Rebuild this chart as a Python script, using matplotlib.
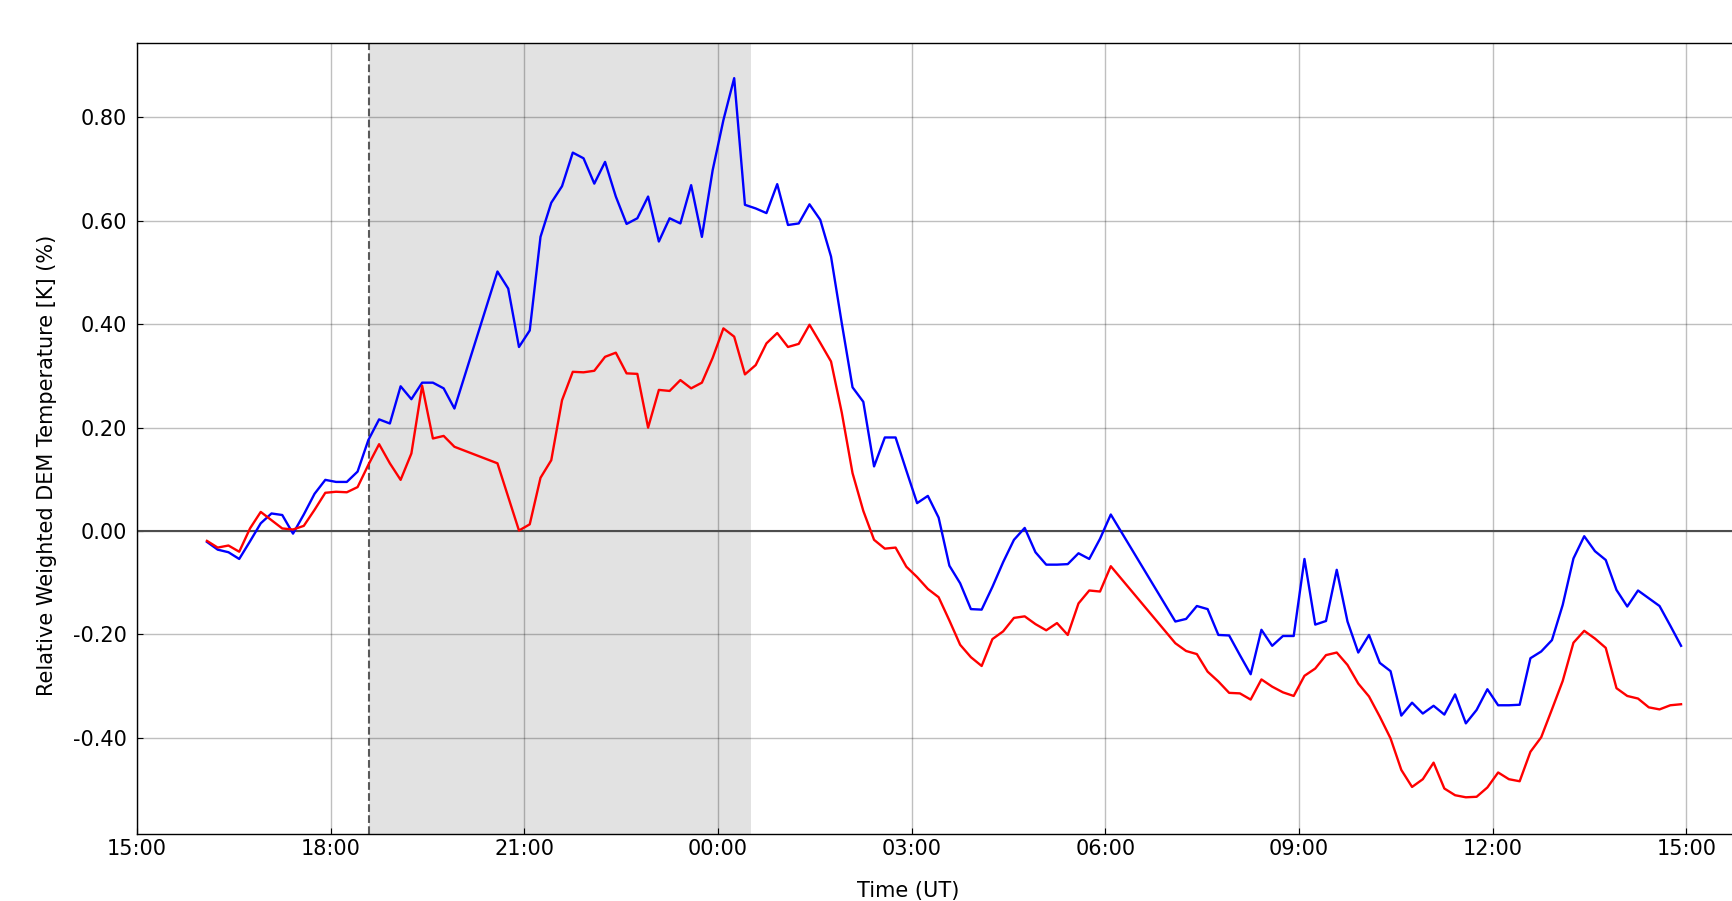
import matplotlib
matplotlib.use('Agg')
import matplotlib.pyplot as plt
import matplotlib.dates as mdates
import matplotlib.ticker as mticker
import pandas as pd

# 10-minute cadence, with two data gaps (straight segments in the plot)
segments = [("2021-01-01 16:05", "2021-01-01 19:55"),
            ("2021-01-01 20:35", "2021-01-02 06:05"),
            ("2021-01-02 07:05", "2021-01-02 14:55")]

blue_vals = [
    # 16:05 - 19:55
    -0.021, -0.036, -0.041, -0.054, -0.020, 0.015, 0.034, 0.031, -0.005, 0.032,
    0.072, 0.099, 0.095, 0.095, 0.115, 0.176, 0.216, 0.208, 0.280, 0.255,
    0.287, 0.287, 0.276, 0.237,
    # 20:35 - 06:05
    0.502, 0.469, 0.356, 0.388, 0.569, 0.635, 0.667, 0.732, 0.721, 0.672,
    0.714, 0.647, 0.594, 0.605, 0.647, 0.560, 0.605, 0.595, 0.669, 0.569,
    0.698, 0.795, 0.876, 0.631, 0.624, 0.615, 0.671, 0.592, 0.595, 0.632,
    0.602, 0.531, 0.402, 0.278, 0.250, 0.125, 0.181, 0.181, 0.117, 0.054,
    0.068, 0.026, -0.067, -0.101, -0.151, -0.152, -0.108, -0.060, -0.017, 0.006,
    -0.041, -0.065, -0.065, -0.064, -0.043, -0.054, -0.015, 0.032,
    # 07:05 - 14:55
    -0.175, -0.170, -0.145, -0.151, -0.201, -0.202, -0.240, -0.277, -0.191, -0.222,
    -0.203, -0.203, -0.054, -0.181, -0.174, -0.075, -0.175, -0.235, -0.201, -0.255,
    -0.271, -0.357, -0.332, -0.353, -0.338, -0.355, -0.316, -0.372, -0.346, -0.306,
    -0.337, -0.337, -0.336, -0.246, -0.233, -0.211, -0.143, -0.053, -0.010, -0.039,
    -0.056, -0.114, -0.146, -0.115, -0.130, -0.145, -0.183, -0.222,
]

red_vals = [
    # 16:05 - 19:55
    -0.019, -0.032, -0.028, -0.040, 0.005, 0.037, 0.021, 0.005, 0.003, 0.010,
    0.041, 0.074, 0.076, 0.075, 0.085, 0.128, 0.168, 0.131, 0.099, 0.150,
    0.281, 0.179, 0.184, 0.163,
    # 20:35 - 06:05
    0.131, 0.066, 0.001, 0.013, 0.103, 0.137, 0.253, 0.308, 0.307, 0.310,
    0.337, 0.345, 0.305, 0.304, 0.200, 0.273, 0.271, 0.292, 0.276, 0.287,
    0.335, 0.392, 0.376, 0.303, 0.321, 0.363, 0.383, 0.356, 0.362, 0.399,
    0.364, 0.328, 0.229, 0.112, 0.039, -0.017, -0.034, -0.032, -0.069, -0.089,
    -0.112, -0.128, -0.173, -0.220, -0.244, -0.261, -0.209, -0.194, -0.168, -0.165,
    -0.180, -0.192, -0.178, -0.201, -0.140, -0.115, -0.117, -0.068,
    # 07:05 - 14:55
    -0.217, -0.232, -0.238, -0.272, -0.291, -0.313, -0.314, -0.326, -0.287, -0.301,
    -0.312, -0.319, -0.280, -0.266, -0.240, -0.235, -0.259, -0.295, -0.320, -0.359,
    -0.401, -0.462, -0.495, -0.480, -0.448, -0.498, -0.511, -0.515, -0.514, -0.496,
    -0.467, -0.480, -0.484, -0.427, -0.399, -0.345, -0.290, -0.216, -0.193, -0.208,
    -0.226, -0.304, -0.319, -0.324, -0.341, -0.345, -0.337, -0.335,
]

event_start = pd.Timestamp("2021-01-01 18:36")
event_end = pd.Timestamp("2021-01-02 00:31")
x_start = pd.Timestamp("2021-01-01 15:00")
x_end = pd.Timestamp("2021-01-02 16:00")

times = []
for s, e in segments:
    times += list(pd.date_range(s, e, freq='10min').to_pydatetime())

W, H = 1733, 901
fig = plt.figure(figsize=(W / 100, H / 100), dpi=100)
# axes runs past the right edge of the picture, as in the reference
ax = fig.add_axes([137 / W, 1 - 834 / H, 1614 / W, 791 / H])

ax.axvspan(event_start.to_pydatetime(), event_end.to_pydatetime(),
           color='#e2e2e2', lw=0, zorder=0.5)
ax.axvline(event_start.to_pydatetime(), color='0.35', ls='--', lw=1.5, zorder=1.7)
ax.axhline(0, color='0.3', lw=1.5, zorder=1.7)

ax.plot(times, blue_vals, color='#0000ff', lw=1.7, zorder=3)
ax.plot(times, red_vals, color='#ff0000', lw=1.7, zorder=3)

ax.set_xlim(x_start.to_pydatetime(), x_end.to_pydatetime())
ax.set_ylim(-0.586, 0.944)
ax.xaxis.set_major_locator(mdates.HourLocator(byhour=range(0, 24, 3)))
ax.xaxis.set_major_formatter(mdates.DateFormatter('%H:%M'))
ax.yaxis.set_major_locator(mticker.MultipleLocator(0.2))
ax.yaxis.set_major_formatter(mticker.FormatStrFormatter('%.2f'))

ax.grid(True, color='k', alpha=0.25, lw=1.0)
ax.tick_params(direction='in', labelsize=15, length=4)
ax.tick_params(axis='y', pad=7)
for sp in ax.spines.values():
    sp.set_linewidth(1.0)

ax.set_xlabel('Time (UT)', fontsize=15)
ax.set_ylabel('Relative Weighted DEM Temperature [K] (%)', fontsize=15)
ax.xaxis.set_label_coords(0.4777, -0.0594)
ax.yaxis.set_label_coords(-0.0496, 0.4665)

fig.savefig('out.png', dpi=100)
